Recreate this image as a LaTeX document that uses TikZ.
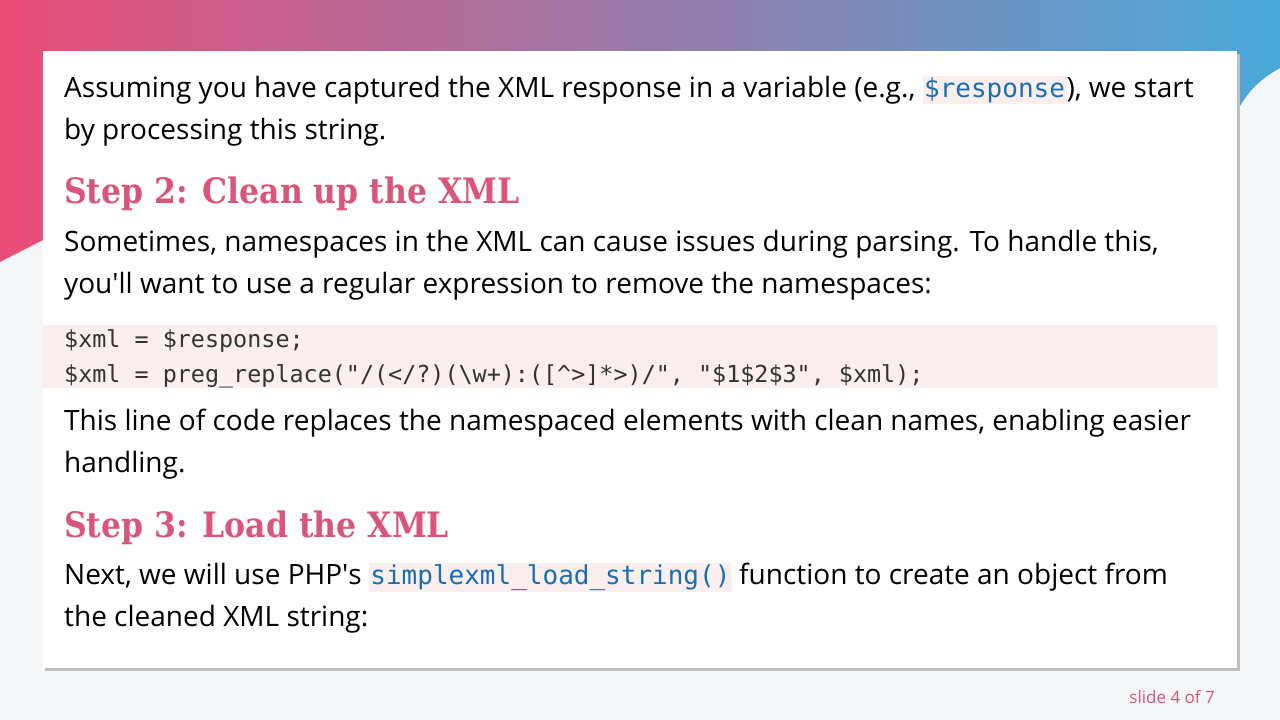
\documentclass[tikz,border=0pt]{standalone}
\usepackage{fontspec}
\setmainfont{Open Sans}
\newfontfamily\headfont{DejaVu Serif Condensed}
\setmonofont{DejaVu Sans Mono}
\definecolor{pinkc}{HTML}{EA4C77}
\definecolor{bluec}{HTML}{48A9DA}
\definecolor{headc}{HTML}{D9557A}
\definecolor{codebg}{HTML}{FBEEEE}
\definecolor{codec}{HTML}{1A6FB0}
\definecolor{pagebg}{HTML}{F4F6F8}
\newcommand{\icode}[1]{{\setlength{\fboxsep}{1.5pt}\colorbox{codebg}{\textcolor{codec}{\ttfamily\fontsize{26}{28}\selectfont #1}}}}
\tikzset{
 body/.style={anchor=base west,inner sep=0pt,font=\fontsize{28}{32}\selectfont,text=black},
 head/.style={anchor=base west,inner sep=0pt,font=\headfont\bfseries\fontsize{35}{40}\selectfont,text=headc},
 code/.style={anchor=base west,inner sep=0pt,font=\ttfamily\fontsize{23.4}{26}\selectfont,text=black!80}
}
\begin{document}
\begin{tikzpicture}[x=1pt,y=-1pt]
\useasboundingbox (0,0) rectangle (1280,720);
\fill[pagebg] (0,0) rectangle (1280,720);
\shade[left color=pinkc,right color=bluec] (0,0) -- (1280,0) -- (1280,68) .. controls (1258,80) and (1245,95) .. (1237,112) -- (43,240) -- (0,262) -- cycle;
\fill[black!25] (45,54) rectangle (1240,671);
\fill[white] (43,51) rectangle (1237,668);
\fill[codebg] (43,325) rectangle (1218,388);
\node[body] (l1) at (64,97) {Assuming you have captured the XML response in a variable (e.g., \icode{\$response}), we start};
\node[body] (l2) at (64,139) {by processing this string.};
\node[head] (h2) at (64,203) {Step 2: Clean up the XML};
\node[body] (l3) at (64,251) {Sometimes, namespaces in the XML can cause issues during parsing. To handle this,};
\node[body] (l4) at (64,293) {you\textquotesingle ll want to use a regular expression to remove the namespaces:};
\node[code] (c1) at (64,347) {\$xml = \$response;};
\node[code] (c2) at (64,382) {\$xml = preg\_replace("/(</?)(\textbackslash w+):([\textasciicircum>]*>)/", "\$1\$2\$3", \$xml);};
\node[body] (l5) at (64,430) {This line of code replaces the namespaced elements with clean names, enabling easier};
\node[body] (l6) at (64,472) {handling.};
\node[head] (h3) at (64,537) {Step 3: Load the XML};
\node[body] (l7) at (64,584) {Next, we will use PHP\textquotesingle s \icode{simplexml\_load\_string()} function to create an object from};
\node[body] (l8) at (64,626) {the cleaned XML string:};
\node[anchor=base east,inner sep=0pt,font=\fontsize{17}{20}\selectfont,text=headc] (sl) at (1215,703) {slide 4 of 7};
\end{tikzpicture}
\end{document}
